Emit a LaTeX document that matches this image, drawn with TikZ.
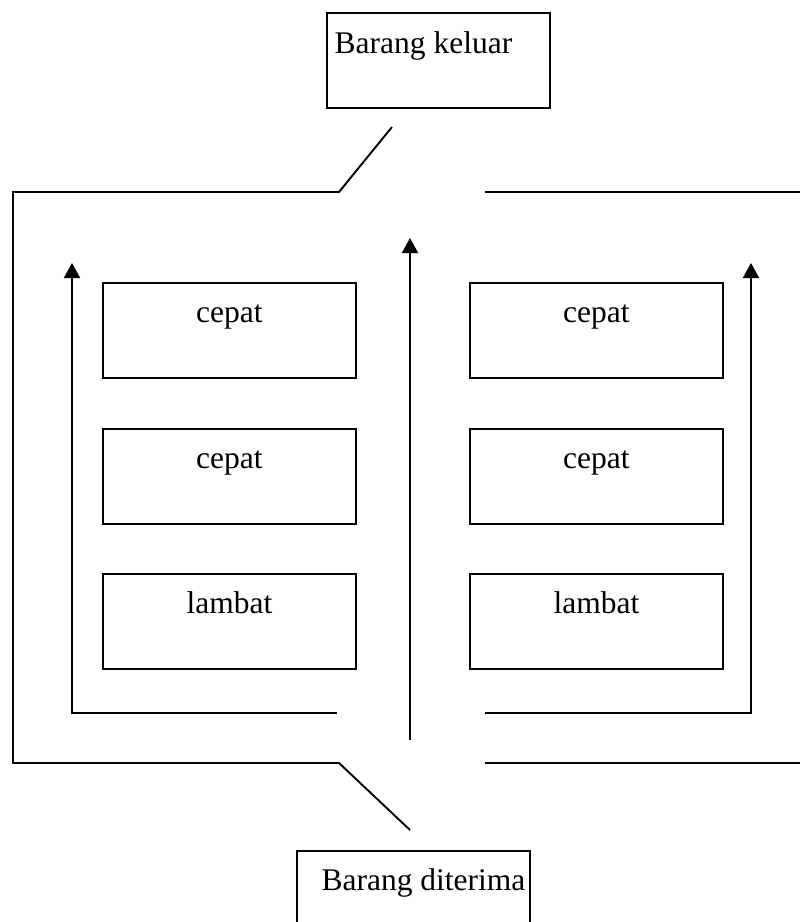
\documentclass[tikz,border=0pt]{standalone}
\usepackage{fontspec}
\setmainfont{Liberation Serif}
\usetikzlibrary{arrows.meta}
\begin{document}
\begin{tikzpicture}[x=1pt,y=-1pt,
  wall/.style={line width=1.9pt},
  flow/.style={line width=1.9pt,-{Triangle[width=16pt,length=15pt]}},
  rack/.style={draw,line width=1.9pt,rectangle,inner sep=0pt,
    minimum width=253pt,minimum height=95pt,anchor=north west},
  tag/.style={draw,line width=1.9pt,rectangle,inner sep=0pt,anchor=north west},
  lbl/.style={anchor=base,font=\fontsize{31.5}{36}\selectfont,inner sep=0pt}]
\useasboundingbox (0,0) rectangle (800,922);
\clip (0,0) rectangle (800,922);

% top and bottom label boxes
\node[tag,minimum width=223pt,minimum height=95pt] (out) at (326,12) {};
\node[lbl] at ([xshift=-15pt,yshift=-41pt]out.north) {Barang keluar};
\node[tag,minimum width=233pt,minimum height=110pt] (in) at (296,850) {};
\node[lbl] at ([xshift=10pt,yshift=-40pt]in.north) {Barang diterima};

% storage racks
\foreach \n/\x/\y/\t in {l1/102/282/cepat, l2/102/428/cepat, l3/102/573/lambat,
                         r1/469/282/cepat, r2/469/428/cepat, r3/469/573/lambat}{
  \node[rack] (\n) at (\x,\y) {};
  \node[lbl] at ([yshift=-40pt]\n.north) {\t};
}

% building walls
\coordinate (wtl) at (13,192);
\coordinate (wbl) at (13,763);
\coordinate (gtl) at (339,192);
\coordinate (gbl) at (339,763);
\coordinate (dtop) at (392,127);
\coordinate (dbot) at (410,830);
\coordinate (gtr) at (485,192);
\coordinate (etr) at (800,192);
\coordinate (gbr) at (485,763);
\coordinate (ebr) at (800,763);
\draw[wall] (dtop) -- (gtl) -- (wtl) -- (wbl) -- (gbl) -- (dbot);
\draw[wall] (gtr) -- (etr);
\draw[wall] (gbr) -- (ebr);

% flow of goods
\coordinate (a1s) at (337,713);
\coordinate (a1c) at (72,713);
\coordinate (a1e) at (72,263);
\draw[flow] (a1s) -- (a1c) -- (a1e);
\coordinate (a2s) at (410,740);
\coordinate (a2e) at (410,238);
\draw[flow] (a2s) -- (a2e);
\coordinate (a3s) at (485,713);
\coordinate (a3c) at (751,713);
\coordinate (a3e) at (751,263);
\draw[flow] (a3s) -- (a3c) -- (a3e);
\end{tikzpicture}
\end{document}
